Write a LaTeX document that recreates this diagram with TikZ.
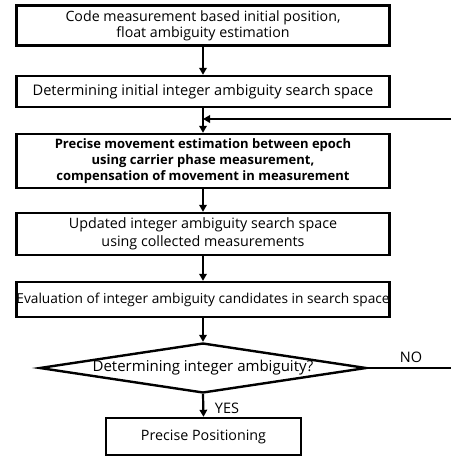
\documentclass[tikz,border=0pt]{standalone}
\usepackage{fontspec}
\setmainfont{Open Sans}
\usetikzlibrary{arrows.meta,shapes.geometric}
\newcommand{\fs}[2]{\fontsize{#1}{#2}\selectfont}
\begin{document}
\begin{tikzpicture}[x=1pt,y=-1pt,
  box/.style={draw, line width=2.4pt, minimum width=373pt, inner sep=0pt, align=center,
    font=\fs{14.2}{16}},
  arr/.style={line width=2.2pt, -{Triangle[length=7pt,width=7.5pt]}},
  ln/.style={line width=2.2pt},
  lbl/.style={font=\fs{14.5}{16}, inner sep=0pt}]
\useasboundingbox (0,0) rectangle (451,456);
\node[box, minimum height=40pt] (b1) at (203,25.5) {Code measurement based initial position,\\float ambiguity estimation};
\node[box, minimum height=31pt, font=\fs{14.6}{16}] (b2) at (203,91.5) {Determining initial integer ambiguity search space};
\node[box, minimum height=54pt, font=\fs{13}{16}\bfseries] (b3) at (203,161) {Precise movement estimation between epoch\\using carrier phase measurement,\\compensation of movement in measurement};
\node[box, minimum height=42pt, font=\fs{14.3}{18}] (b4) at (203,234) {Updated integer ambiguity search space\\using collected measurements};
\node[box, minimum height=35pt, font=\fs{13.7}{16}] (b5) at (203,299.5) {Evaluation of integer ambiguity candidates in search space};
\node[draw, diamond, line width=2.4pt, inner sep=0pt, minimum width=327pt, minimum height=50pt,
  font=\fs{15}{16}] (d) at (203,368) {\makebox[0pt]{Determining integer ambiguity?}};
\node[box, minimum width=195pt, minimum height=37pt, font=\fs{14.3}{16}] (b6) at (203.5,436.5) {Precise Positioning};
\draw[arr] (b1.south) -- (b2.north);
\draw[arr] (b2.south) -- (b3.north);
\draw[arr] (b3.south) -- (b4.north);
\draw[arr] (b4.south) -- (b5.north);
\draw[arr] (b5.south) -- (d.north);
\draw[arr] (d.south) -- (b6.north);
\coordinate (fb) at (451,119);
\coordinate (noend) at (451,368);
\draw[arr] (fb) -- (fb -| b2.south);
\draw[ln] (d.east) -- (noend);
\node[lbl] (no) at (411,357) {NO};
\node[lbl] (yes) at (227,408) {YES};
\end{tikzpicture}
\end{document}
